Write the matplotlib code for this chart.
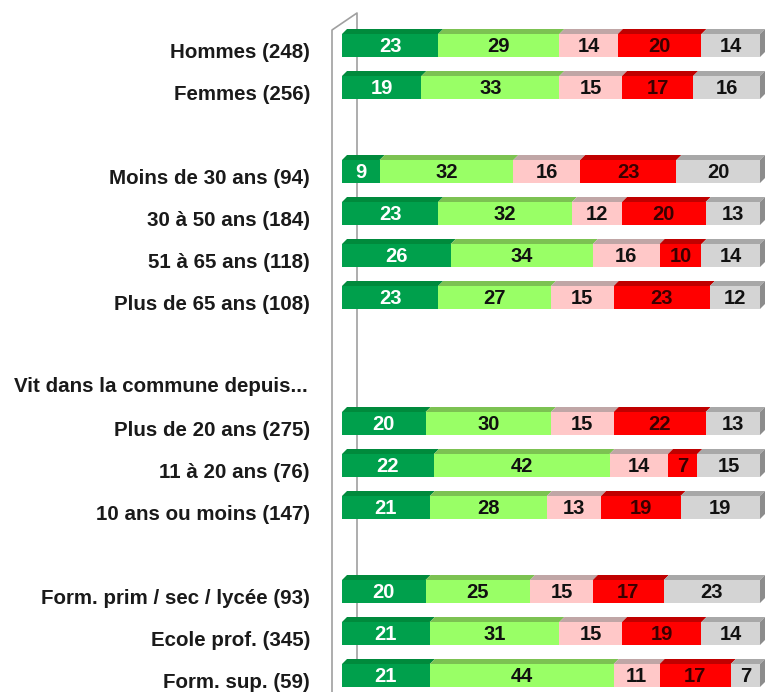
import matplotlib.pyplot as plt
from matplotlib.patches import Polygon, Rectangle

plt.rcParams['font.family'] = ['Liberation Sans', 'DejaVu Sans']

labels = ["Hommes (248)", "Femmes (256)",
          "Moins de 30 ans (94)", "30 à 50 ans (184)", "51 à 65 ans (118)", "Plus de 65 ans (108)",
          "Plus de 20 ans (275)", "11 à 20 ans (76)", "10 ans ou moins (147)",
          "Form. prim / sec / lycée (93)", "Ecole prof. (345)", "Form. sup. (59)"]
rows = [0, 1, 3, 4, 5, 6, 9, 10, 11, 13, 14, 15]
header = "Vit dans la commune depuis..."
header_row = 8

s1 = [23, 19, 9, 23, 26, 23, 20, 22, 21, 20, 21, 21]
s2 = [29, 33, 32, 32, 34, 27, 30, 42, 28, 25, 31, 44]
s3 = [14, 15, 16, 12, 16, 15, 15, 14, 13, 15, 15, 11]
s4 = [20, 17, 23, 20, 10, 23, 22, 7, 19, 17, 19, 17]
s5 = [14, 16, 20, 13, 14, 12, 13, 15, 19, 23, 14, 7]
series = [s1, s2, s3, s4, s5]

front = ['#00a04c', '#99ff66', '#ffc8c8', '#ff0000', '#d4d4d4']
top = ['#008a3c', '#7cc252', '#c0a6a6', '#c00000', '#a8a8a8']
txt = ['white', '#111111', '#111111', '#3a0000', '#111111']
side = '#8c8c8c'

PX = 4.18   # pixels per percent
SP = 42.0   # pixels per row
h = 23 / SP
dx = 5 / PX
dy = 5 / SP

fig = plt.figure(figsize=(7.68, 6.92), dpi=100)
ax = fig.add_axes([0, 0, 1, 1])
ax.set_xlim(-342 / PX, (768 - 342) / PX)
ax.set_ylim((692 - 45.5) / SP, -45.5 / SP)
ax.axis('off')

# wall
wx0, wx1 = -10 / PX, 15 / PX
wy0, wy1 = (30 - 45.5) / SP, (13 - 45.5) / SP
ax.plot([wx0, wx0, wx1, wx1], [(700 - 45.5) / SP, wy0, wy1, (685 - 45.5) / SP],
        color='#a0a0a0', lw=1.2, zorder=1)

for i, y in enumerate(rows):
    left = 0
    yt = y - h / 2
    for k, s in enumerate(series):
        v = s[i]
        ax.add_patch(Rectangle((left, yt), v, h, facecolor=front[k], edgecolor='none', zorder=3))
        ax.add_patch(Polygon([(left, yt), (left + dx, yt - dy), (left + v + dx, yt - dy), (left + v, yt)],
                             closed=True, facecolor=top[k], edgecolor='none', zorder=2))
        ax.text(left + v / 2, y + 0.03, str(v), ha='center', va='center', fontsize=14.5,
                fontweight='bold', color=txt[k], zorder=4)
        left += v
    ax.add_patch(Polygon([(left, yt), (left + dx, yt - dy), (left + dx, yt + h - dy), (left, yt + h)],
                         closed=True, facecolor=side, edgecolor='none', zorder=2))
    ax.text(-32 / PX, y + 0.17, labels[i], ha='right', va='center', fontsize=14.8,
            fontweight='bold', color='#1a1a1a')

ax.text(-34 / PX, header_row + 0.12, header, ha='right', va='center', fontsize=14.8,
        fontweight='bold', color='#1a1a1a')

fig.savefig('out.png', dpi=100, facecolor='white')
